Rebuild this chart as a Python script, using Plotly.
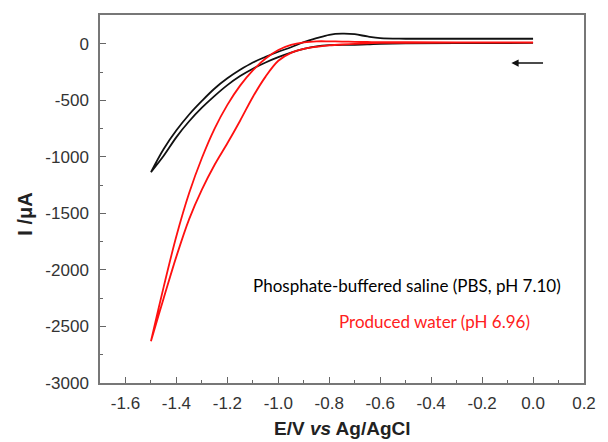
import plotly.graph_objects as go

# Potential grid (V vs Ag/AgCl), from 0 V down to the -1.5 V vertex
E_grid = [0.00, -0.30, -0.50, -0.60, -0.65, -0.70, -0.75, -0.80, -0.85, -0.90,
          -0.95, -1.00, -1.05, -1.10, -1.15, -1.20, -1.25, -1.30, -1.35, -1.40,
          -1.45, -1.50]

# PBS (black) — cathodic sweep (lower branch) and return sweep (upper branch, with anodic bump)
pbs_forward = [8, 6, 5, 0, -5, -8, -10, -12, -22, -45,
               -78, -118, -165, -220, -285, -365, -460, -565, -685, -825,
               -990, -1135]
pbs_return = [45, 45, 45, 50, 65, 85, 90, 80, 50, 15,
              -30, -70, -115, -165, -230, -305, -395, -505, -625, -765,
              -930, -1135]

# Produced water (red)
pw_forward = [10, 10, 9, 8, 4, 0, -6, -14, -26, -45,
              -80, -150, -290, -470, -680, -880, -1070, -1290, -1550, -1880,
              -2250, -2630]
pw_return = [12, 12, 14, 15, 16, 18, 20, 22, 22, 12,
             -10, -55, -130, -235, -370, -540, -750, -1010, -1320, -1700,
             -2150, -2630]

x_ticks = [-1.6, -1.4, -1.2, -1.0, -0.8, -0.6, -0.4, -0.2, 0.0, 0.2]
x_tick_labels = ["-1.6", "-1.4", "-1.2", "-1.0", "-0.8", "-0.6", "-0.4", "-0.2", "0.0", "0.2"]
y_ticks = [-3000, -2500, -2000, -1500, -1000, -500, 0]
y_tick_labels = ["-3000", "-2500", "-2000", "-1500", "-1000", "-500", "0"]

def loop(fwd, ret):
    xs = E_grid + E_grid[::-1]
    ys = fwd + ret[::-1]
    return xs, ys

fig = go.Figure()
bx, by = loop(pbs_forward, pbs_return)
rx, ry = loop(pw_forward, pw_return)
fig.add_trace(go.Scatter(x=bx, y=by, mode="lines", line=dict(color="#111111", width=1.8),
                         line_shape="spline", showlegend=False))
fig.add_trace(go.Scatter(x=rx, y=ry, mode="lines", line=dict(color="#ff1010", width=1.8),
                         line_shape="spline", showlegend=False))

tickfont = dict(family="Liberation Sans, Arial", size=17, color="#333333")
fig.update_xaxes(range=[-1.7, 0.2], tickvals=x_ticks, ticktext=x_tick_labels,
                 ticks="inside", ticklen=6, tickwidth=1.2, tickcolor="#666666",
                 minor=dict(ticks="inside", ticklen=3, tickcolor="#666666", dtick=0.1,
                            tick0=-1.7),
                 showline=True, linecolor="#777777", linewidth=1.5, mirror=True,
                 showgrid=False, zeroline=False, tickfont=tickfont, ticklabelstandoff=4)
fig.update_yaxes(range=[-3000, 255], tickvals=y_ticks, ticktext=y_tick_labels,
                 ticks="inside", ticklen=6, tickwidth=1.2, tickcolor="#666666",
                 minor=dict(ticks="inside", ticklen=3, tickcolor="#666666", dtick=250,
                            tick0=-3000),
                 showline=True, linecolor="#777777", linewidth=1.5, mirror=True,
                 showgrid=False, zeroline=False, tickfont=tickfont, ticklabelstandoff=6)

fig.update_layout(
    width=608, height=442,
    margin=dict(l=100, r=12, t=15, b=59),
    plot_bgcolor="white", paper_bgcolor="white",
    annotations=[
        dict(x=-0.495, y=-2140, xref="x", yref="y", showarrow=False,
             text="Phosphate-buffered saline (PBS, pH 7.10)",
             font=dict(family="Lato", size=17, color="#000000")),
        dict(x=-0.385, y=-2460, xref="x", yref="y", showarrow=False,
             text="Produced water (pH 6.96)",
             font=dict(family="Lato", size=17, color="#ff2020")),
        dict(x=-0.085, y=-170, ax=0.045, ay=-170, xref="x", yref="y", axref="x", ayref="y",
             showarrow=True, arrowhead=2, arrowsize=0.9, arrowwidth=1.6, arrowcolor="#111111",
             text=""),
        dict(x=0.5, y=0, xref="paper", yref="paper", xanchor="center", yanchor="middle",
             yshift=-45, showarrow=False,
             text="<b>E/V <i>vs</i> Ag/AgCl</b>",
             font=dict(family="Liberation Sans, Arial", size=19, color="#222222")),
        dict(x=-0.155, y=0.46, xref="paper", yref="paper", xanchor="center", yanchor="middle",
             showarrow=False, textangle=-90,
             text="<b>I /μA</b>",
             font=dict(family="Liberation Sans, Arial", size=20, color="#222222")),
    ],
)

fig.write_html("out.html")
